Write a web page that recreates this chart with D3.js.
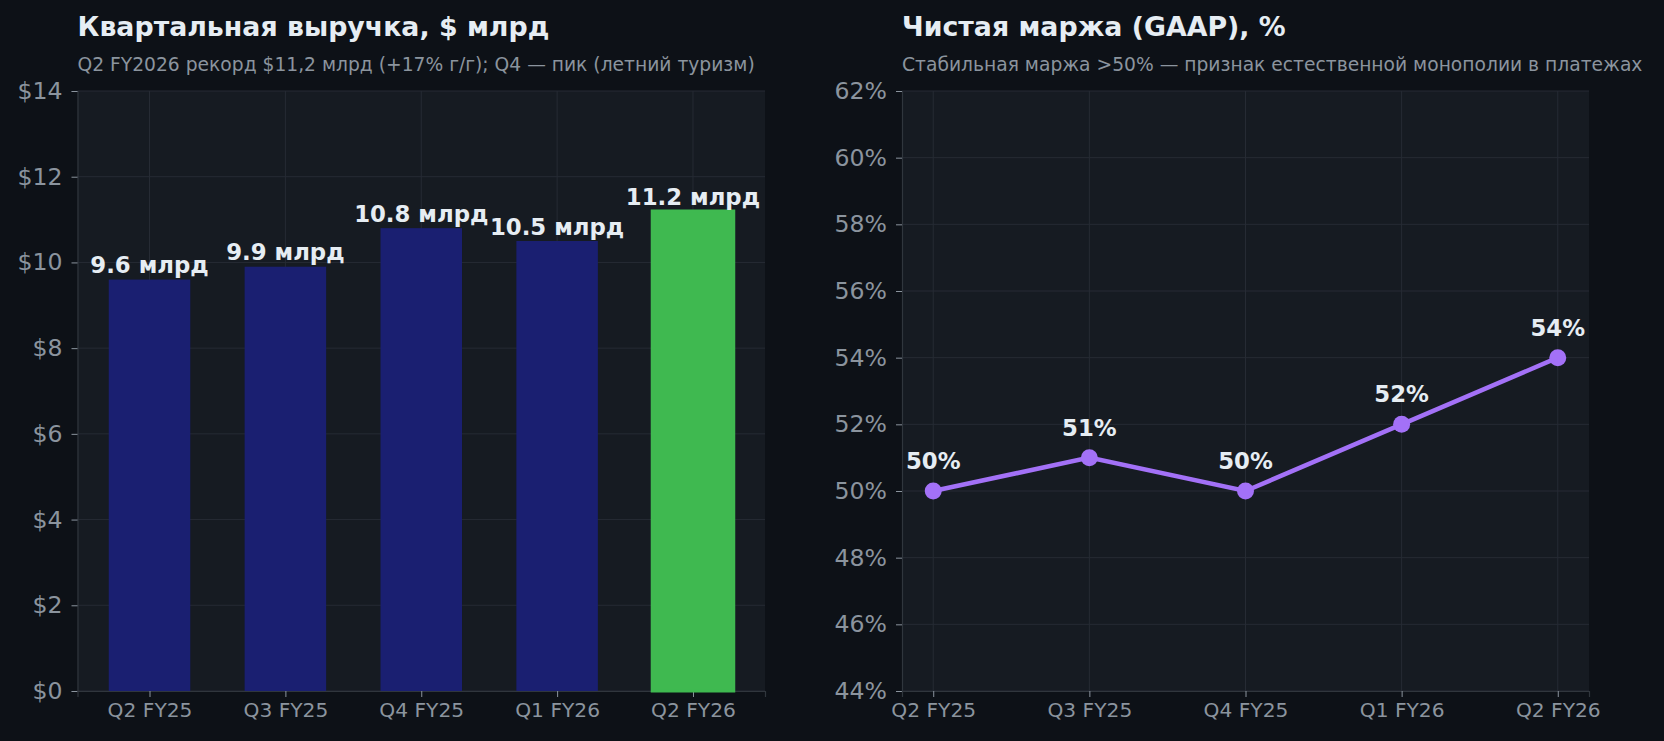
<!DOCTYPE html>
<html>
<head>
<meta charset="utf-8">
<script src="https://cdn.jsdelivr.net/npm/d3@7"></script>
<style>
  html, body { margin: 0; padding: 0; background: #0d1117; }
  svg { display: block; }
  text { font-family: "DejaVu Sans", sans-serif; }
</style>
</head>
<body>
<svg id="chart" width="1664" height="741"></svg>
<script>
// data
const quarters = ["Q2 FY25", "Q3 FY25", "Q4 FY25", "Q1 FY26", "Q2 FY26"];
const revenue = [9.6, 9.9, 10.8, 10.5, 11.2];
const margin = [50, 51, 50, 52, 54];
const revTicks = [0, 2, 4, 6, 8, 10, 12, 14];
const marginTicks = [44, 46, 48, 50, 52, 54, 56, 58, 60, 62];

const col = {
  bg: "#0d1117", panel: "#161b22", grid: "#262b34", spine: "#30363d",
  text: "#e6edf3", muted: "#8b949e", bar: "#1a1f71", barLast: "#3fb950", line: "#a371f7"
};

const svg = d3.select("#chart");
svg.append("rect").attr("width", 1664).attr("height", 741).attr("fill", col.bg);

function panel(box, title, subtitle) {
  const g = svg.append("g");
  g.append("rect")
    .attr("x", box.x0).attr("y", box.y0)
    .attr("width", box.x1 - box.x0).attr("height", box.y1 - box.y0)
    .attr("fill", col.panel);
  g.append("text")
    .attr("x", box.x0).attr("y", 36)
    .attr("fill", col.text).attr("font-size", 26.8).attr("font-weight", "bold")
    .text(title);
  g.append("text")
    .attr("x", box.x0).attr("y", 71)
    .attr("fill", col.muted).attr("font-size", 18.7)
    .text(subtitle);
  return g;
}

function axes(g, box, x, y, yticks, yfmt) {
  // grid
  g.append("g").selectAll("line.hg").data(yticks).join("line")
    .attr("x1", box.x0).attr("x2", box.x1)
    .attr("y1", d => y(d)).attr("y2", d => y(d))
    .attr("stroke", col.grid).attr("stroke-width", 1);
  g.append("g").selectAll("line.vg").data(quarters).join("line")
    .attr("x1", (d, i) => x(i)).attr("x2", (d, i) => x(i))
    .attr("y1", box.y0).attr("y2", box.y1)
    .attr("stroke", col.grid).attr("stroke-width", 1);

  const ya = d3.axisLeft(y).tickValues(yticks).tickFormat(yfmt).tickSize(6).tickPadding(9);
  const yg = g.append("g").attr("transform", `translate(${box.x0},0)`).call(ya);
  const xa = d3.axisBottom(x).tickValues(d3.range(quarters.length))
    .tickFormat(i => quarters[i]).tickSize(6).tickPadding(6);
  const xg = g.append("g").attr("transform", `translate(0,${box.y1})`).call(xa);
  [yg, xg].forEach(a => {
    a.select(".domain").attr("stroke", col.spine).attr("stroke-width", 1.2);
    a.selectAll(".tick line").attr("stroke", col.muted);
    a.selectAll(".tick text").attr("fill", col.muted).attr("font-family", "DejaVu Sans");
  });
  yg.selectAll(".tick text").attr("font-size", 23.6);
  xg.selectAll(".tick text").attr("font-size", 20.2);
}

// left: revenue bars
const boxL = { x0: 77.5, x1: 765, y0: 91, y1: 691 };
const gL = panel(boxL, "Квартальная выручка, $ млрд",
  "Q2 FY2026 рекорд $11,2 млрд (+17% г/г); Q4 — пик (летний туризм)");
const xL = d3.scaleLinear().domain([-0.53, 4.53]).range([boxL.x0, boxL.x1]);
const yL = d3.scaleLinear().domain([0, 14]).range([boxL.y1, boxL.y0]);
axes(gL, boxL, xL, yL, revTicks, d => "$" + d);

const bw = 0.6;
gL.append("g").selectAll("rect").data(revenue).join("rect")
  .attr("x", (d, i) => xL(i - bw / 2))
  .attr("width", xL(bw) - xL(0))
  .attr("y", d => yL(d))
  .attr("height", d => yL(0) - yL(d))
  .attr("fill", (d, i) => i === revenue.length - 1 ? col.barLast : col.bar)
  .attr("stroke", (d, i) => i === revenue.length - 1 ? col.barLast : "none")
  .attr("stroke-width", 3);
gL.append("g").selectAll("text").data(revenue).join("text")
  .attr("x", (d, i) => xL(i))
  .attr("y", d => yL(d) - 6.5)
  .attr("text-anchor", "middle")
  .attr("fill", col.text).attr("font-size", 22.8).attr("font-weight", "bold")
  .text(d => d.toFixed(1) + " млрд");

// right: margin line
const boxR = { x0: 902, x1: 1589, y0: 91, y1: 691 };
const gR = panel(boxR, "Чистая маржа (GAAP), %",
  "Стабильная маржа >50% — признак естественной монополии в платежах");
const xR = d3.scaleLinear().domain([-0.2, 4.2]).range([boxR.x0, boxR.x1]);
const yR = d3.scaleLinear().domain([44, 62]).range([boxR.y1, boxR.y0]);
axes(gR, boxR, xR, yR, marginTicks, d => d + "%");

gR.append("path")
  .datum(margin)
  .attr("d", d3.line().x((d, i) => xR(i)).y(d => yR(d)))
  .attr("fill", "none").attr("stroke", col.line).attr("stroke-width", 4.5);
gR.append("g").selectAll("circle").data(margin).join("circle")
  .attr("cx", (d, i) => xR(i)).attr("cy", d => yR(d)).attr("r", 8.5)
  .attr("fill", col.line);
gR.append("g").selectAll("text").data(margin).join("text")
  .attr("x", (d, i) => xR(i))
  .attr("y", d => yR(d) - 22)
  .attr("text-anchor", "middle")
  .attr("fill", col.text).attr("font-size", 22.8).attr("font-weight", "bold")
  .text(d => d + "%");
</script>
</body>
</html>
